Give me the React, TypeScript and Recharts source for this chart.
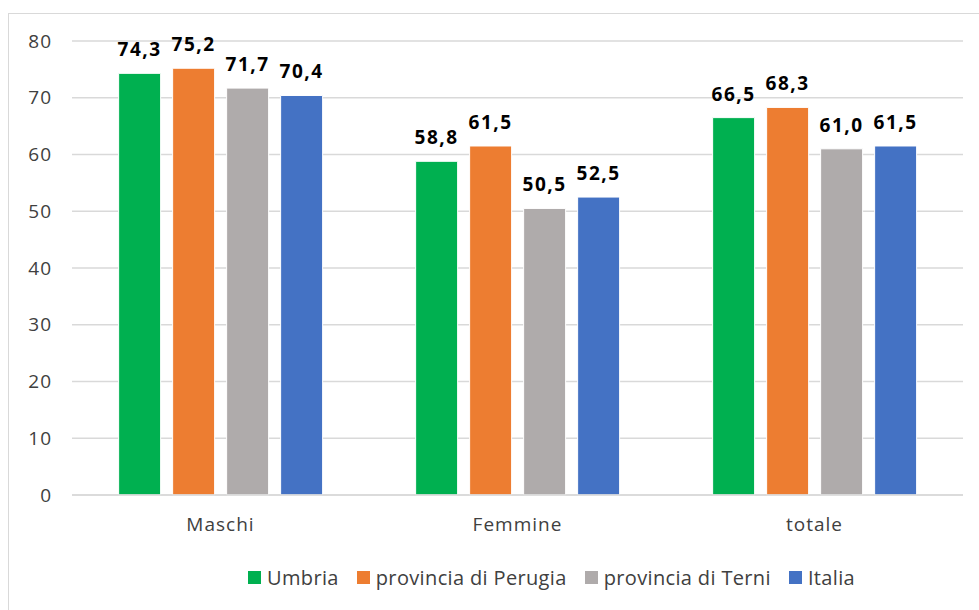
import React from "react";
import { BarChart, Bar, XAxis, YAxis, CartesianGrid, LabelList } from "recharts";

const categories = ["Maschi", "Femmine", "totale"];
const umbria = [74.3, 58.8, 66.5];
const perugia = [75.2, 61.5, 68.3];
const terni = [71.7, 50.5, 61.0];
const italia = [70.4, 52.5, 61.5];
const yTicks = [0, 10, 20, 30, 40, 50, 60, 70, 80];

const SERIES = [
  { key: "umbria", name: "Umbria", color: "#00b050" },
  { key: "perugia", name: "provincia di Perugia", color: "#ed7d31" },
  { key: "terni", name: "provincia di Terni", color: "#afabab" },
  { key: "italia", name: "Italia", color: "#4472c4" },
];

const data = categories.map((cat, i) => ({
  cat,
  umbria: umbria[i],
  perugia: perugia[i],
  terni: terni[i],
  italia: italia[i],
}));

const FONT = "'Open Sans', sans-serif";

const fmt = (v: unknown) => (typeof v === "number" ? v.toFixed(1).replace(".", ",") : "");

function LegendBox() {
  return (
    <div
      style={{
        position: "absolute",
        left: 248,
        top: 564,
        display: "flex",
        alignItems: "center",
        fontFamily: FONT,
        fontSize: 20,
        letterSpacing: 0.35,
        color: "#404040",
        whiteSpace: "nowrap",
      }}
    >
      {SERIES.map((s) => (
        <div key={s.key} style={{ display: "flex", alignItems: "center", marginRight: 18 }}>
          <div style={{ width: 13, height: 13, background: s.color, marginRight: 6 }} />
          <span>{s.name}</span>
        </div>
      ))}
    </div>
  );
}

export default function App() {
  return (
    <div style={{ position: "absolute", left: 0, top: 0, width: 979, height: 610, background: "#fff", overflow: "hidden" }}>
      <div
        style={{
          position: "absolute",
          left: 8,
          top: 13,
          width: 990,
          height: 620,
          border: "1.5px solid #d9d9d9",
          boxSizing: "border-box",
        }}
      />
      <BarChart
        width={979}
        height={610}
        data={data}
        margin={{ top: 41, right: 16, bottom: 85, left: 0 }}
        barCategoryGap="15.7%"
        barGap={12}
        style={{ position: "absolute", left: 0, top: 0 }}
      >
        <CartesianGrid vertical={false} stroke="#d9d9d9" strokeWidth={1.5} />
        <XAxis
          dataKey="cat"
          height={30}
          axisLine={{ stroke: "#d9d9d9", strokeWidth: 1.5 }}
          tickLine={false}
          tickSize={0}
          tickMargin={23}
          tick={{ fill: "#404040", fontFamily: FONT, fontSize: 19, letterSpacing: 1 }}
        />
        <YAxis
          width={72}
          domain={[0, 80]}
          ticks={yTicks}
          axisLine={false}
          tickLine={false}
          tickSize={0}
          tickMargin={20}
          tick={{ fill: "#404040", fontFamily: FONT, fontSize: 19, letterSpacing: 1 }}
        />
        {SERIES.map((s) => (
          <Bar key={s.key} dataKey={s.key} name={s.name} fill={s.color} stroke="#ffffff" strokeWidth={1} isAnimationActive={false}>
            <LabelList
              dataKey={s.key}
              position="top"
              offset={17}
              formatter={fmt}
              style={{ fill: "#000", fontFamily: FONT, fontSize: 19, fontWeight: 700, letterSpacing: 1.5 }}
            />
          </Bar>
        ))}
      </BarChart>
      <LegendBox />
    </div>
  );
}
